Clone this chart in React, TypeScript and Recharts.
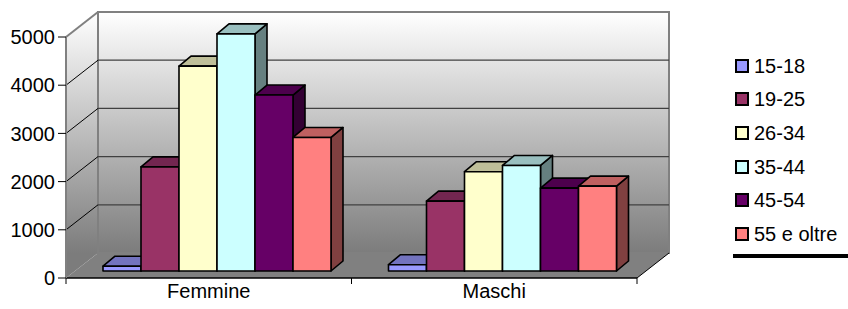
import {
  BarChart,
  Bar,
  XAxis,
  YAxis,
  CartesianGrid,
  Legend,
} from "recharts";

const categories = ["Femmine", "Maschi"];
const ageGroups = ["15-18", "19-25", "26-34", "35-44", "45-54", "55 e oltre"];
const femmine = [100, 2160, 4250, 4920, 3650, 2770];
const maschi = [130, 1450, 2060, 2190, 1720, 1760];
const yTicks = [0, 1000, 2000, 3000, 4000, 5000];

const colors = ["#9999FF", "#993366", "#FFFFCC", "#CCFFFF", "#660066", "#FF8080"];
const topColors = ["#7373BF", "#732650", "#BFBF99", "#99BFBF", "#4D004D", "#BF6060"];
const sideColors = ["#4D4D80", "#4D1A33", "#808066", "#668080", "#330033", "#804040"];

const FONT = "Arial, 'Liberation Sans', sans-serif";
// 3D look: depth of the walls and position of the bars inside it
const DX = 32;
const DY = 25;
const BAR_SHIFT_X = 9;
const BAR_SHIFT_Y = 7;
const BAR_DX = 12;
const BAR_DY = 10;

const PLOT = { left: 66, top: 37, right: 637, bottom: 278 };

const valuesByCategory = [femmine, maschi];
const data = categories.map((name, ci) => {
  const row: Record<string, string | number> = { name };
  ageGroups.forEach((g, si) => {
    row[g] = valuesByCategory[ci][si];
  });
  return row;
});

// walls + floor, drawn from the grid's own box
function Backdrop({ left, top, right, bottom }: any) {
  return (
    <g>
      <defs>
        <linearGradient
          id="wallGrad"
          gradientUnits="userSpaceOnUse"
          x1="0"
          y1={top - DY}
          x2="0"
          y2={bottom - DY}
        >
          <stop offset="0%" stopColor="#ffffff" />
          <stop offset="100%" stopColor="#7c7c7c" />
        </linearGradient>
      </defs>
      <polygon
        points={`${left},${top} ${left + DX},${top - DY} ${left + DX},${bottom - DY} ${left},${bottom}`}
        fill="url(#wallGrad)"
      />
      <rect
        x={left + DX}
        y={top - DY}
        width={right - left}
        height={bottom - top}
        fill="url(#wallGrad)"
        stroke="#808080"
        strokeWidth={2}
      />
      <polygon
        points={`${left},${bottom} ${right},${bottom} ${right + DX},${bottom - DY} ${left + DX},${bottom - DY}`}
        fill="#808080"
      />
      <line x1={right} y1={bottom} x2={right + DX} y2={bottom - DY} stroke="#000" strokeWidth={1} />
    </g>
  );
}

function GridLine(props: any) {
  const { x1, y1, x2, y, height, index } = props;
  const bottom = y + height;
  const isBottom = Math.abs(y1 - bottom) < 0.5;
  const isTop = Math.abs(y1 - y) < 0.5;
  return (
    <g key={props.key}>
      {index === 0 && <Backdrop left={x1} top={y} right={x2} bottom={bottom} />}
      {!isBottom && (
        <line
          x1={x1}
          y1={y1}
          x2={x1 + DX}
          y2={y1 - DY}
          stroke={isTop ? "#808080" : "#000"}
          strokeWidth={isTop ? 2 : 1}
        />
      )}
      {!isBottom && !isTop && (
        <line x1={x1 + DX} y1={y1 - DY} x2={x2 + DX} y2={y1 - DY} stroke="#404040" strokeWidth={1.2} />
      )}
    </g>
  );
}

function bar3D(si: number) {
  return (props: any) => {
    const { width, height } = props;
    if (!width || height == null) return <g />;
    const x = props.x + BAR_SHIFT_X;
    const y = props.y - BAR_SHIFT_Y;
    const b = y + height;
    const r = x + width;
    return (
      <g stroke="#000" strokeWidth={1.6} strokeLinejoin="round">
        <polygon
          points={`${r},${y} ${r + BAR_DX},${y - BAR_DY} ${r + BAR_DX},${b - BAR_DY} ${r},${b}`}
          fill={sideColors[si]}
        />
        <polygon
          points={`${x},${y} ${x + BAR_DX},${y - BAR_DY} ${r + BAR_DX},${y - BAR_DY} ${r},${y}`}
          fill={topColors[si]}
        />
        <rect x={x} y={y} width={width} height={height} fill={colors[si]} />
      </g>
    );
  };
}

function XTick(props: any) {
  const { x, y, payload, index } = props;
  const half =
    payload && payload.offset > 0 ? payload.offset : (PLOT.right - PLOT.left) / categories.length / 2;
  return (
    <g>
      <line x1={x - half} y1={y} x2={x - half} y2={y + 6} stroke="#000" />
      {index === categories.length - 1 && (
        <line x1={x + half} y1={y} x2={x + half} y2={y + 6} stroke="#000" />
      )}
      <text x={x} y={y + 20} textAnchor="middle" fontSize={20} fontFamily={FONT} fill="#000">
        {payload.value}
      </text>
    </g>
  );
}

function LegendBox(props: any) {
  const payload = props.payload && props.payload.length ? props.payload : null;
  const items = ageGroups.map((g, i) => ({
    value: payload ? payload[i].value : g,
    color: colors[i],
  }));
  return (
    <div style={{ fontFamily: FONT, fontSize: 20, color: "#000" }}>
      {items.map((it) => (
        <div
          key={it.value}
          style={{ display: "flex", alignItems: "center", height: 33.6, lineHeight: "20px" }}
        >
          <span
            style={{
              display: "inline-block",
              width: 10,
              height: 10,
              border: "2px solid #000",
              background: it.color,
              marginRight: 5,
              marginLeft: 2,
            }}
          />
          <span>{it.value}</span>
        </div>
      ))}
      <div style={{ height: 4, background: "#000", marginTop: 3 }} />
    </div>
  );
}

export default function App() {
  return (
    <div style={{ position: "absolute", left: 0, top: 0, width: 848, height: 309, background: "#fff" }}>
      <BarChart
        width={848}
        height={309}
        data={data}
        margin={{ top: PLOT.top, right: 848 - PLOT.right, bottom: 0, left: 0 }}
        barCategoryGap={28}
        barGap={0}
      >
        <CartesianGrid vertical={false} horizontal={GridLine as any} />
        <XAxis
          dataKey="name"
          axisLine={{ stroke: "#000", strokeWidth: 1.5 }}
          tickLine={false}
          tickSize={0}
          tickMargin={0}
          height={309 - PLOT.bottom}
          tick={<XTick />}
          interval={0}
        />
        <YAxis
          width={PLOT.left}
          domain={[0, 5000]}
          ticks={yTicks}
          interval={0}
          axisLine={{ stroke: "#808080", strokeWidth: 2 }}
          tickLine={{ stroke: "#000" }}
          tickSize={8}
          tickMargin={3}
          tick={{ fontSize: 20, fontFamily: FONT, fill: "#000" }}
        />
        {ageGroups.map((g, si) => (
          <Bar key={g} dataKey={g} fill={colors[si]} shape={bar3D(si)} isAnimationActive={false} />
        ))}
        <Legend
          layout="vertical"
          align="center"
          verticalAlign="middle"
          wrapperStyle={{ left: 733, top: 49, width: 115 }}
          content={<LegendBox />}
        />
      </BarChart>
    </div>
  );
}
